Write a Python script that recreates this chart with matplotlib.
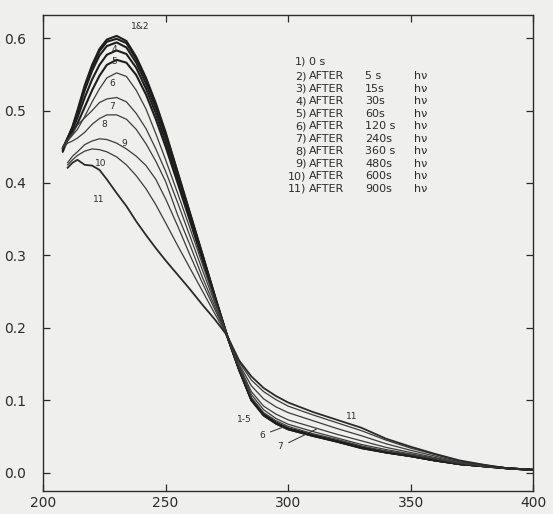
import numpy as np
import matplotlib.pyplot as plt

# wavelength grid (nm) and absorbance of the 11 spectra
wl = [208, 210, 212, 214, 217, 220, 223, 226, 230, 234, 238, 242, 246, 250, 255, 260, 265,
      270, 275, 280, 285, 290, 295, 300, 310, 320, 330, 340, 350, 360, 370, 380, 390, 400]
nan = np.nan
c1 = [0.445, 0.462, 0.478, 0.500, 0.535, 0.563, 0.585, 0.598, 0.603, 0.596, 0.574, 0.545, 0.510, 0.470, 0.414, 0.358, 0.302,
      0.245, 0.190, 0.142, 0.100, 0.079, 0.068, 0.060, 0.051, 0.043, 0.034, 0.028, 0.023, 0.017, 0.012, 0.009, 0.006, 0.004]
c2 = [0.443, 0.460, 0.477, 0.498, 0.532, 0.560, 0.582, 0.595, 0.599, 0.593, 0.571, 0.543, 0.508, 0.468, 0.413, 0.357, 0.301,
      0.245, 0.190, 0.142, 0.101, 0.080, 0.068, 0.060, 0.051, 0.043, 0.034, 0.028, 0.023, 0.017, 0.012, 0.009, 0.006, 0.004]
c3 = [0.447, 0.462, 0.476, 0.496, 0.528, 0.555, 0.576, 0.589, 0.594, 0.587, 0.566, 0.537, 0.503, 0.464, 0.410, 0.355, 0.300,
      0.244, 0.190, 0.143, 0.101, 0.080, 0.069, 0.061, 0.052, 0.043, 0.035, 0.028, 0.023, 0.017, 0.012, 0.009, 0.006, 0.004]
c4 = [0.448, 0.462, 0.474, 0.490, 0.518, 0.543, 0.563, 0.577, 0.583, 0.578, 0.559, 0.530, 0.496, 0.457, 0.404, 0.351, 0.297,
      0.243, 0.190, 0.143, 0.101, 0.080, 0.069, 0.061, 0.052, 0.044, 0.035, 0.029, 0.023, 0.017, 0.012, 0.009, 0.006, 0.004]
c5 = [0.448, 0.460, 0.470, 0.482, 0.505, 0.528, 0.548, 0.563, 0.570, 0.566, 0.549, 0.522, 0.488, 0.450, 0.399, 0.347, 0.294,
      0.242, 0.190, 0.143, 0.102, 0.081, 0.069, 0.061, 0.052, 0.044, 0.035, 0.029, 0.024, 0.018, 0.012, 0.009, 0.006, 0.004]
c6 = [0.449, 0.458, 0.466, 0.474, 0.492, 0.512, 0.530, 0.545, 0.552, 0.547, 0.528, 0.502, 0.468, 0.432, 0.385, 0.337, 0.288,
      0.239, 0.190, 0.145, 0.104, 0.083, 0.072, 0.064, 0.054, 0.046, 0.037, 0.030, 0.025, 0.019, 0.013, 0.009, 0.006, 0.004]
c7 = [0.450, 0.460, 0.468, 0.480, 0.490, 0.500, 0.511, 0.516, 0.518, 0.512, 0.496, 0.475, 0.447, 0.416, 0.372, 0.326, 0.280,
      0.235, 0.190, 0.148, 0.108, 0.087, 0.075, 0.067, 0.057, 0.048, 0.039, 0.032, 0.026, 0.020, 0.014, 0.010, 0.006, 0.004]
c8 = [0.448, 0.455, 0.458, 0.462, 0.470, 0.481, 0.489, 0.494, 0.494, 0.488, 0.474, 0.454, 0.430, 0.402, 0.355, 0.314, 0.270,
      0.230, 0.190, 0.148, 0.112, 0.092, 0.081, 0.073, 0.063, 0.053, 0.044, 0.035, 0.028, 0.021, 0.014, 0.010, 0.006, 0.004]
c9 = [nan, 0.428, 0.437, 0.443, 0.453, 0.458, 0.461, 0.460, 0.455, 0.447, 0.437, 0.424, 0.405, 0.378, 0.340, 0.300, 0.262,
      0.226, 0.190, 0.150, 0.120, 0.102, 0.091, 0.083, 0.072, 0.061, 0.051, 0.040, 0.031, 0.023, 0.015, 0.010, 0.006, 0.004]
c10 = [nan, 0.425, 0.432, 0.438, 0.444, 0.447, 0.446, 0.443, 0.436, 0.425, 0.410, 0.392, 0.370, 0.345, 0.313, 0.282, 0.251,
       0.220, 0.190, 0.153, 0.128, 0.112, 0.101, 0.092, 0.080, 0.069, 0.058, 0.045, 0.034, 0.025, 0.016, 0.011, 0.006, 0.004]
c11 = [nan, 0.421, 0.428, 0.432, 0.425, 0.424, 0.418, 0.405, 0.386, 0.368, 0.347, 0.328, 0.310, 0.293, 0.273, 0.253, 0.232,
       0.212, 0.190, 0.155, 0.133, 0.117, 0.106, 0.097, 0.084, 0.073, 0.062, 0.047, 0.036, 0.026, 0.017, 0.011, 0.006, 0.004]
curves = [c1, c2, c3, c4, c5, c6, c7, c8, c9, c10, c11]

legend_nums = ['1)', '2)', '3)', '4)', '5)', '6)', '7)', '8)', '9)', '10)', '11)']
legend_times = ['0 s', '5 s', '15s', '30s', '60s', '120 s', '240s', '360 s', '480s', '600s', '900s']

xticks = [200, 250, 300, 350, 400]
yticks = [0.0, 0.1, 0.2, 0.3, 0.4, 0.5, 0.6]

ink = '#2b2b2b'
bg = '#efefed'

fig = plt.figure(figsize=(5.53, 5.14), dpi=100, facecolor=bg)
ax = fig.add_axes([0.078, 0.045, 0.886, 0.926], facecolor=bg)

for i, c in enumerate(curves):
    if i < 5:
        ax.plot(wl, c, color='#1e1e1e', lw=1.5, solid_capstyle='round')
    elif i == 10:
        ax.plot(wl, c, color='#2a2a2a', lw=1.3)
    else:
        ax.plot(wl, c, color='#3c3c3c', lw=0.9)

ax.set_xlim(200, 400)
ax.set_ylim(-0.025, 0.632)
ax.set_xticks(xticks)
ax.set_yticks(yticks)
ax.set_xticklabels([str(t) for t in xticks])
ax.set_yticklabels(['%.1f' % t for t in yticks])
ax.tick_params(direction='in', length=5, width=0.9, color=ink, labelcolor=ink,
               labelsize=10, top=True, right=True)
ax.tick_params(axis='y', pad=12)
ax.tick_params(axis='x', pad=4)
for s in ax.spines.values():
    s.set_color(ink)
    s.set_linewidth(1.0)

# labels on the curves
tk = dict(color=ink, fontsize=6.5, ha='center', va='center')
ax.text(239.8, 0.616, '1&2', **tk)
ax.text(229, 0.584, '4', **tk)
ax.text(229, 0.567, '5', **tk)
ax.text(228.3, 0.537, '6', **tk)
ax.text(228.3, 0.505, '7', **tk)
ax.text(224.9, 0.481, '8', **tk)
ax.text(233, 0.455, '9', **tk)
ax.text(223.5, 0.427, '10', **tk)
ax.text(222.8, 0.377, '11', **tk)
ax.text(282, 0.073, '1-5', **tk)
ax.text(326, 0.078, '11', **tk)
ax.annotate('6', xy=(300.3, 0.066), xytext=(289.4, 0.052), color=ink, fontsize=6.5,
            ha='center', va='center', arrowprops=dict(arrowstyle='-', color=ink, lw=0.7))
ax.annotate('7', xy=(312.6, 0.062), xytext=(296.9, 0.036), color=ink, fontsize=6.5,
            ha='center', va='center', arrowprops=dict(arrowstyle='-', color=ink, lw=0.7))

# legend block
lk = dict(color=ink, fontsize=8, va='center')
y0 = 0.567
for i in range(len(legend_nums)):
    if i == 0:
        ax.text(307.5, y0, legend_nums[i], ha='right', **lk)
        ax.text(308.5, y0, legend_times[i], ha='left', **lk)
    else:
        yy = 0.547 - (i - 1) * 0.0172
        ax.text(307.5, yy, legend_nums[i], ha='right', **lk)
        ax.text(308.5, yy, 'AFTER', ha='left', **lk)
        ax.text(331.5, yy, legend_times[i], ha='left', **lk)
        ax.text(351.5, yy, 'h\u03bd', ha='left', **lk)

plt.savefig('out.png', dpi=100, facecolor=bg)
